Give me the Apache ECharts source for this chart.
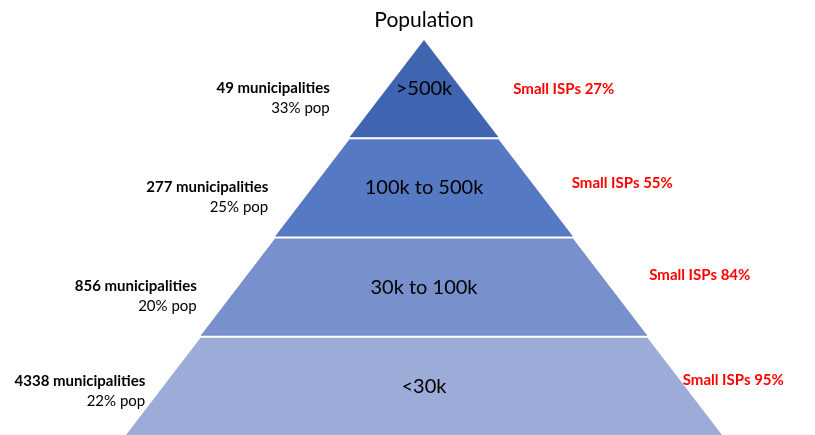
<!DOCTYPE html>
<html>
<head>
<meta charset="utf-8">
<script src="https://cdn.jsdelivr.net/npm/echarts@6/dist/echarts.min.js"></script>
<style>
html,body{margin:0;padding:0;background:#fff;}
#chart{width:815px;height:435px;}
</style>
</head>
<body>
<div id="chart"></div>
<script>
// Tiers (top to bottom)
const tiers = ['>500k', '100k to 500k', '30k to 100k', '<30k'];
// Relative width of each tier's base (pyramid step)
const tierWidth = [1, 2, 3, 4];
const municipalities = [49, 277, 856, 4338];
const popShare = [33, 25, 20, 22];
const smallIspShare = [27, 55, 84, 95];
const tierColors = ['#3f64b0', '#5679c4', '#7891cd', '#9cabd8'];

const FONT = 'Lato, "Open Sans", sans-serif';

const chart = echarts.init(document.getElementById('chart'));

// pyramid geometry (layout only)
const apexX = 424, topY = 40, baseY = 435, halfBase = 298;
const pieceH = (baseY - topY) / tiers.length;

const graphics = [];
const leftOffsets = [57, 44, 41, 18];
const leftDy = [0, 0, 0, -3];
const rightOffsets = [52, 36, 39, -2];
const rightDy = [0, -5, -12, -5];
for (let i = 0; i < tiers.length; i++) {
  const yMid = topY + pieceH * (i + 0.5);
  const edgeHalf = halfBase * (yMid - topY) / (baseY - topY);
  const lx = apexX - edgeHalf - leftOffsets[i];
  const rx = apexX + edgeHalf + rightOffsets[i];
  graphics.push({
    type: 'text', x: lx, y: yMid - 1 + leftDy[i],
    style: {
      text: municipalities[i] + ' municipalities',
      fill: '#000', font: 'bold 15px ' + FONT,
      textAlign: 'right', textVerticalAlign: 'middle'
    }
  });
  graphics.push({
    type: 'text', x: lx, y: yMid + 19 + leftDy[i],
    style: {
      text: popShare[i] + '% pop',
      fill: '#000', font: '15px ' + FONT,
      textAlign: 'right', textVerticalAlign: 'middle'
    }
  });
  graphics.push({
    type: 'text', x: rx, y: yMid + rightDy[i],
    style: {
      text: 'Small ISPs ' + smallIspShare[i] + '%',
      fill: '#ff0000', font: 'bold 15px ' + FONT,
      textAlign: 'left', textVerticalAlign: 'middle'
    }
  });
}
graphics.push({
  type: 'text', x: apexX, y: 20,
  style: {
    text: 'Population', fill: '#000', font: '21px ' + FONT,
    textAlign: 'center', textVerticalAlign: 'middle'
  }
});

chart.setOption({
  animation: false,
  series: [{
    type: 'funnel',
    sort: 'ascending',
    left: apexX - halfBase,
    width: halfBase * 2,
    top: topY,
    height: baseY - topY,
    min: 0,
    max: 4,
    minSize: '0%',
    maxSize: '100%',
    gap: 2,
    label: {
      show: true,
      position: 'inside',
      color: '#000',
      fontSize: 20,
      fontFamily: FONT,
      formatter: p => p.name
    },
    labelLine: { show: false },
    itemStyle: { borderWidth: 0 },
    emphasis: { disabled: true },
    data: tiers.map((t, i) => ({
      name: t,
      value: tierWidth[i],
      itemStyle: { color: tierColors[i] }
    }))
  }],
  graphic: graphics
});
</script>
</body>
</html>
